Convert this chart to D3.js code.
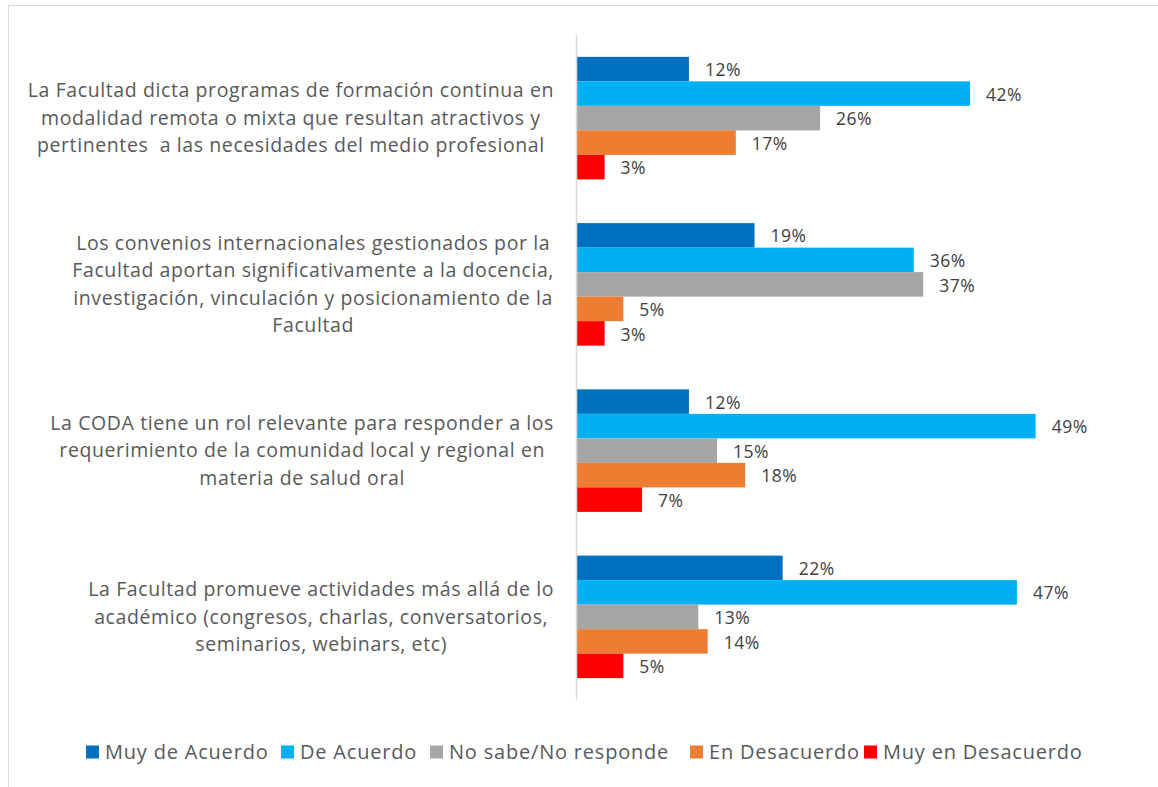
<!DOCTYPE html>
<html>
<head>
<meta charset="utf-8">
<script src="https://cdn.jsdelivr.net/npm/d3@7"></script>
<style>
  body { margin: 0; background: #fff; }
  text { font-family: "Open Sans", "Noto Sans", sans-serif; white-space: pre; }
</style>
</head>
<body>
<div id="chart"></div>
<script>
// questions (one array of wrapped lines each)
const categories = [
  ["La Facultad dicta programas de formación continua en",
   "modalidad remota o mixta que resultan atractivos y",
   "pertinentes  a las necesidades del medio profesional"],
  ["Los convenios internacionales gestionados por la",
   "Facultad aportan significativamente a la docencia,",
   "investigación, vinculación y posicionamiento de la",
   "Facultad"],
  ["La CODA tiene un rol relevante para responder a los",
   "requerimiento de la comunidad local y regional en",
   "materia de salud oral"],
  ["La Facultad promueve actividades más allá de lo",
   "académico (congresos, charlas, conversatorios,",
   "seminarios, webinars, etc)"]
];

const seriesNames = ["Muy de Acuerdo", "De Acuerdo", "No sabe/No responde", "En Desacuerdo", "Muy en Desacuerdo"];
const seriesColors = ["#0070C0", "#00B0F0", "#A5A5A5", "#ED7D31", "#FF0000"];

const muyDeAcuerdo   = [12, 19, 12, 22];
const deAcuerdo      = [42, 36, 49, 47];
const noSabe         = [26, 37, 15, 13];
const enDesacuerdo   = [17, 5, 18, 14];
const muyEnDesacuerdo = [3, 3, 7, 5];

const seriesValues = [muyDeAcuerdo, deAcuerdo, noSabe, enDesacuerdo, muyEnDesacuerdo];

const W = 1158, H = 787;
const plot = { left: 576.5, right: 1045, top: 35, bottom: 700 };

const svg = d3.select("#chart").append("svg")
    .attr("width", W)
    .attr("height", H);

// outer chart border
svg.append("rect")
    .attr("x", 8.5).attr("y", 5.5)
    .attr("width", W + 10).attr("height", H + 10)
    .style("fill", "none")
    .style("stroke", "#d9d9d9");

const y0 = d3.scaleBand()
    .domain(d3.range(categories.length))
    .range([plot.top, plot.bottom])
    .paddingInner(0.263)
    .paddingOuter(0.1315);

const y1 = d3.scaleBand()
    .domain(d3.range(seriesNames.length))
    .range([0, y0.bandwidth()]);

const x = d3.scaleLinear().domain([0, 50]).range([plot.left, plot.right]);

const rows = [];
categories.forEach((c, i) => {
  seriesValues.forEach((vals, s) => rows.push({ cat: i, s: s, v: vals[i] }));
});

svg.append("g").selectAll("rect")
  .data(rows)
  .join("rect")
    .attr("x", x(0))
    .attr("y", d => y0(d.cat) + y1(d.s))
    .attr("width", d => x(d.v) - x(0))
    .attr("height", y1.bandwidth())
    .style("fill", d => seriesColors[d.s]);

svg.append("g").selectAll("text")
  .data(rows)
  .join("text")
    .attr("x", d => x(d.v) + 16)
    .attr("y", d => y0(d.cat) + y1(d.s) + y1.bandwidth() / 2 + 1)
    .attr("dy", "0.35em")
    .style("font-size", "17.5px")
    .style("letter-spacing", "0.5px")
    .style("fill", "#404040")
    .text(d => d.v + "%");

// vertical axis line
svg.append("line")
    .attr("x1", plot.left).attr("x2", plot.left)
    .attr("y1", plot.top).attr("y2", plot.bottom)
    .style("stroke", "#d9d9d9")
    .style("stroke-width", 1.5);

// category labels: centered block, right edge next to the axis
const lineH = 27.5;
const labelRight = 554;
categories.forEach((lines, i) => {
  const g = svg.append("g");
  const cy = y0(i) + y0.bandwidth() / 2;
  const t = g.selectAll("text")
    .data(lines)
    .join("text")
      .attr("y", (d, k) => cy + (k - (lines.length - 1) / 2) * lineH)
      .attr("dy", "0.35em")
      .attr("text-anchor", "middle")
      .style("font-size", "19.5px")
      .style("letter-spacing", "0.6px")
      .style("fill", "#595959")
      .text(d => d);
  const maxW = d3.max(t.nodes(), n => n.getComputedTextLength());
  t.attr("x", labelRight - maxW / 2);
});

// legend
const legendX = [86, 281, 430, 690, 864];
const legend = svg.append("g").selectAll("g")
  .data(seriesNames)
  .join("g")
    .attr("transform", (d, i) => `translate(${legendX[i]},752)`);

legend.append("rect")
    .attr("x", 0).attr("y", -6.5)
    .attr("width", 13).attr("height", 13)
    .style("fill", (d, i) => seriesColors[i]);

legend.append("text")
    .attr("x", 19)
    .attr("dy", "0.35em")
    .style("font-size", "20px")
    .style("letter-spacing", "0.8px")
    .style("fill", "#595959")
    .text(d => d);
</script>
</body>
</html>
